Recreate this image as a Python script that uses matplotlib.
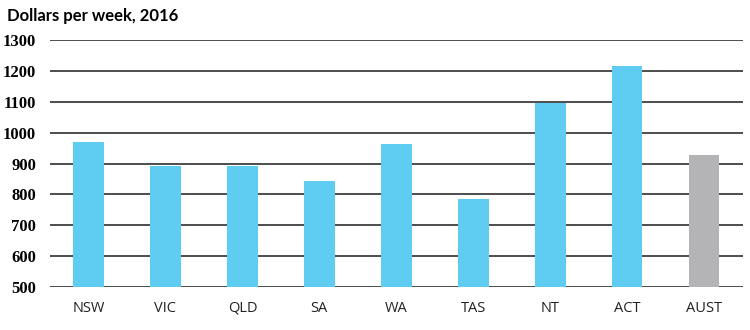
import numpy as np
import matplotlib.pyplot as plt

states = ['NSW', 'VIC', 'QLD', 'SA', 'WA', 'TAS', 'NT', 'ACT', 'AUST']
dollars = [969, 892, 892, 843, 963, 784, 1096, 1217, 929]
bar_colors = ['#5FCDF1'] * 8 + ['#B4B4B6']
y_ticks = [500, 600, 700, 800, 900, 1000, 1100, 1200, 1300]

fig = plt.figure(figsize=(7.5, 3.3), dpi=100)
ax = fig.add_axes([0.0667, 0.13, 0.9233, 0.749])

x = np.arange(len(states))
ax.bar(x, dollars, width=0.4, color=bar_colors, zorder=3, bottom=0)
ax.set_ylim(500, 1300)
ax.set_xlim(-0.5, len(states) - 0.5)

for v in y_ticks:
    ax.axhline(v, color='#4D4D4D', linewidth=1.4, zorder=2)

ax.set_yticks(y_ticks)
ax.set_yticklabels([str(v) for v in y_ticks], family='Liberation Serif',
                   fontweight='bold', fontsize=12)
ax.set_xticks(x)
ax.set_xticklabels(states, family='Open Sans', fontsize=10.5, color='#222222')
ax.tick_params(axis='both', length=0)
ax.tick_params(axis='y', pad=10)
ax.tick_params(axis='x', pad=10)
for s in ax.spines.values():
    s.set_visible(False)

fig.text(0.009, 0.95, 'Dollars per week, 2016', family='Lato',
         fontweight='bold', fontsize=12, ha='left', va='center')

fig.savefig('out.png', dpi=100)
